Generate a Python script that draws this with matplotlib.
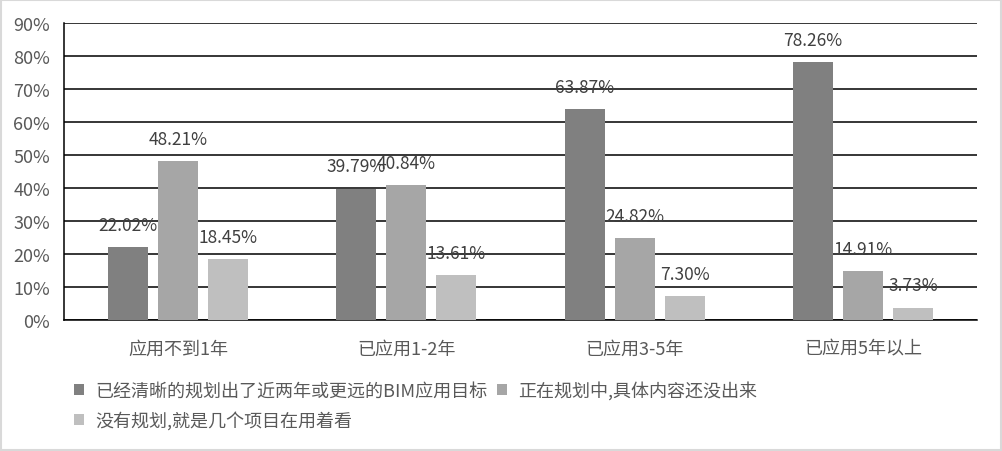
import numpy as np
import matplotlib.pyplot as plt
from matplotlib.patches import Rectangle
from matplotlib.ticker import FuncFormatter

plt.rcParams['font.family'] = ['Noto Sans CJK SC', 'DejaVu Sans']

# data
categories = ['应用不到1年', '已应用1-2年', '已应用3-5年', '已应用5年以上']
series_names = ['已经清晰的规划出了近两年或更远的BIM应用目标',
                '正在规划中,具体内容还没出来',
                '没有规划,就是几个项目在用着看']
clear_plan = [22.02, 39.79, 63.87, 78.26]
planning = [48.21, 40.84, 24.82, 14.91]
no_plan = [18.45, 13.61, 7.30, 3.73]
y_ticks = [0, 10, 20, 30, 40, 50, 60, 70, 80, 90]

colors = ['#808080', '#a6a6a6', '#bfbfbf']
offsets = [-0.219, 0.0, 0.219]
bar_w = 0.175

fig = plt.figure(figsize=(10.02, 4.52), dpi=100)
ax = fig.add_axes([0.0639, 0.2898, 0.9111, 0.6571])

x = np.arange(len(categories))
handles = []
for vals, col, off, name in zip([clear_plan, planning, no_plan], colors, offsets, series_names):
    bars = ax.bar(x + off, vals, width=bar_w, color=col, label=name, zorder=3)
    handles.append(bars)
    for xi, v in zip(x, vals):
        ax.annotate(f'{v:.2f}%', (xi + off, v), textcoords='offset points',
                    xytext=(0, 16), ha='center', va='center',
                    fontsize=12.5, color='#404040', zorder=5)

ax.set_xlim(-0.5, len(categories) - 0.5)
ax.set_ylim(0, 90)
ax.set_yticks(y_ticks)
ax.yaxis.set_major_formatter(FuncFormatter(lambda v, p: f'{v:.0f}%'))
ax.set_xticks(x)
ax.set_xticklabels(categories)
ax.tick_params(axis='both', length=0, labelsize=13, labelcolor='#595959')
ax.tick_params(axis='x', pad=14)
ax.tick_params(axis='y', pad=10)

ax.grid(axis='y', color='black', linewidth=1.1, zorder=1)
ax.set_axisbelow(True)
for s in ['top', 'right']:
    ax.spines[s].set_visible(False)
ax.spines['left'].set_linewidth(1.1)
ax.spines['bottom'].set_linewidth(1.1)

order = [0, 2, 1]
leg = fig.legend([handles[i] for i in order], [series_names[i] for i in order],
                 ncol=2, loc='upper left', bbox_to_anchor=(0.074, 0.155),
                 frameon=False, fontsize=13, handlelength=0.55, handleheight=0.55,
                 handletextpad=0.6, columnspacing=0.55, labelspacing=0.6,
                 borderaxespad=0, borderpad=0)
for t in leg.get_texts():
    t.set_color('#595959')

fig.patches.append(Rectangle((0.001, 0.002), 0.998, 0.996, transform=fig.transFigure,
                             fill=False, edgecolor='#d9d9d9', linewidth=1.5))

fig.savefig('out.png', dpi=100)
